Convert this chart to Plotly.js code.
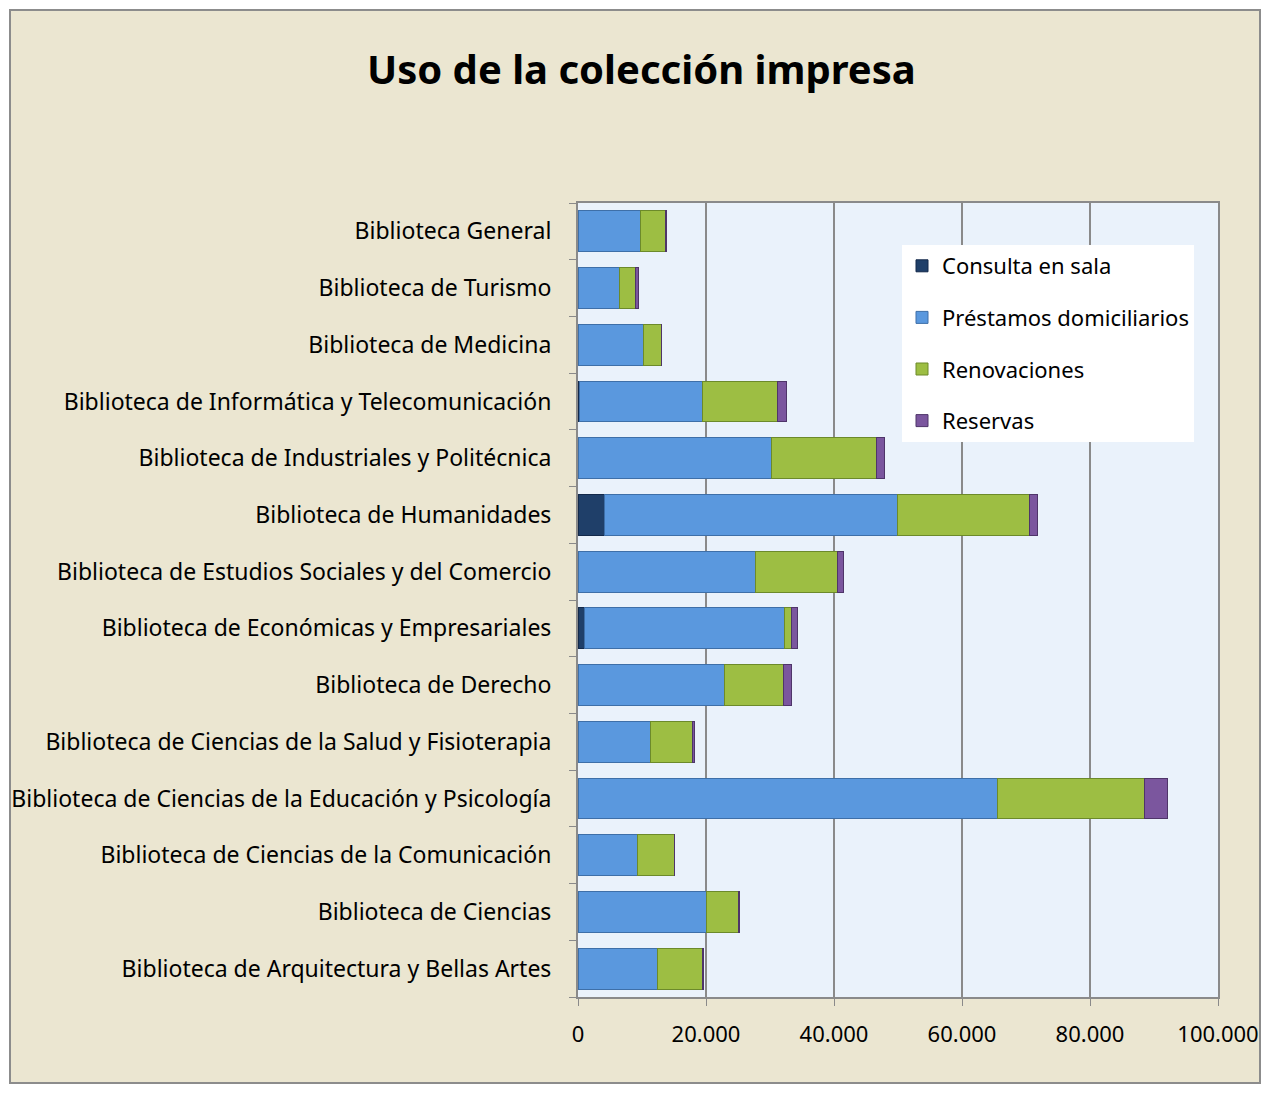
<!DOCTYPE html>
<html>
<head>
<meta charset="utf-8">
<script src="https://cdn.plot.ly/plotly-3.0.1.min.js"></script>
<style>html,body{margin:0;padding:0;background:#fff;}#chart{width:1270px;height:1093px;}</style>
</head>
<body>
<div id="chart"></div>
<script>
const categories = [
  "Biblioteca de Arquitectura y Bellas Artes",
  "Biblioteca de Ciencias",
  "Biblioteca de Ciencias de la Comunicación",
  "Biblioteca de Ciencias de la Educación y Psicología",
  "Biblioteca de Ciencias de la Salud y Fisioterapia",
  "Biblioteca de Derecho",
  "Biblioteca de Económicas y Empresariales",
  "Biblioteca de Estudios Sociales y del Comercio",
  "Biblioteca de Humanidades",
  "Biblioteca de Industriales y Politécnica",
  "Biblioteca de Informática y Telecomunicación",
  "Biblioteca de Medicina",
  "Biblioteca de Turismo",
  "Biblioteca General"
];
const consultaEnSala =        [0,     0,     0,     0,     0,     0,     950,   0,     4100,  0,     300,   0,     0,    0];
const prestamosDomiciliarios = [12400, 20000, 9270,  65600, 11250, 22900, 31250, 27800, 45850, 30260, 19100, 10200, 6450, 9800];
const renovaciones =          [7100,  5060,  5730,  22900, 6650,  9200,  1200,  12700, 20550, 16440, 11750, 2800,  2500, 3800];
const reservas =              [150,   150,   150,   3600,  300,   1300,  900,   1000,  1300,  1200,  1450,  100,   550,  200];
const seriesNames = ["Consulta en sala", "Préstamos domiciliarios", "Renovaciones", "Reservas"];
const xTicks = [0, 20000, 40000, 60000, 80000, 100000];

const colors = ["#1F3F69", "#5A98DE", "#9DBE43", "#7B569E"];
const lineColors = ["#13294A", "#3E6FA8", "#6C8A2A", "#4F3569"];
const seriesData = [consultaEnSala, prestamosDomiciliarios, renovaciones, reservas];

const FONT = "Noto Sans, sans-serif";

const traces = seriesData.map((vals, i) => ({
  type: "bar",
  orientation: "h",
  name: seriesNames[i],
  y: categories,
  x: vals,
  legendgroup: "g" + i,
  marker: { color: colors[i], line: { color: lineColors[i], width: 1 } },
  hoverinfo: "x+y+name"
}));

// helper conversions for decorative frame (paper coords)
const L = 578, R = 1218, T = 203, B = 997;
const px = v => (v - L) / (R - L);
const py = v => (B - v) / (B - T);

const layout = {
  width: 1270,
  height: 1093,
  margin: { l: L, r: 1270 - R, t: T, b: 1093 - B },
  paper_bgcolor: "#EBE6D1",
  plot_bgcolor: "#EAF2FB",
  separators: ",.",
  barmode: "stack",
  bargap: 0.28,
  showlegend: true,
  title: {
    text: "<b>Uso de la colección impresa</b>",
    font: { family: FONT, size: 40, color: "#000" },
    x: 0.505, xanchor: "center",
    y: 1 - 70 / 1093, yanchor: "middle"
  },
  xaxis: {
    range: [0, 100000],
    tickvals: xTicks,
    tickformat: ",d",
    showgrid: true,
    gridcolor: "#8A8A8A",
    gridwidth: 2,
    zeroline: false,
    showline: true,
    linecolor: "#8A8A8A",
    linewidth: 2,
    mirror: true,
    ticks: "outside",
    ticklen: 7,
    tickcolor: "#8A8A8A",
    tickfont: { family: FONT, size: 22, color: "#000" },
    ticklabelstandoff: 10,
    fixedrange: true
  },
  yaxis: {
    type: "category",
    categoryorder: "array",
    categoryarray: categories,
    showgrid: false,
    showline: true,
    linecolor: "#8A8A8A",
    linewidth: 2,
    mirror: true,
    ticks: "outside",
    tickson: "boundaries",
    ticklen: 7,
    tickcolor: "#8A8A8A",
    tickfont: { family: FONT, size: 23, color: "#000" },
    ticklabelstandoff: 20,
    fixedrange: true
  },
  legend: {
    x: px(902), y: py(245),
    xanchor: "left", yanchor: "top",
    bgcolor: "#FFFFFF",
    borderwidth: 0,
    traceorder: "grouped",
    tracegroupgap: 20,
    itemwidth: 30,
    font: { family: FONT, size: 22, color: "#000" }
  },
  shapes: [
    { type: "rect", xref: "paper", yref: "paper", x0: px(0), x1: px(1270), y0: py(1093), y1: py(0),
      line: { color: "#FFFFFF", width: 20 }, fillcolor: "rgba(0,0,0,0)", layer: "above" },
    { type: "rect", xref: "paper", yref: "paper", x0: px(10), x1: px(1260), y0: py(1083), y1: py(10),
      line: { color: "#8C8C8C", width: 2 }, fillcolor: "rgba(0,0,0,0)", layer: "above" }
  ]
};

Plotly.newPlot("chart", traces, layout, { displayModeBar: false, staticPlot: true });
</script>
</body>
</html>
